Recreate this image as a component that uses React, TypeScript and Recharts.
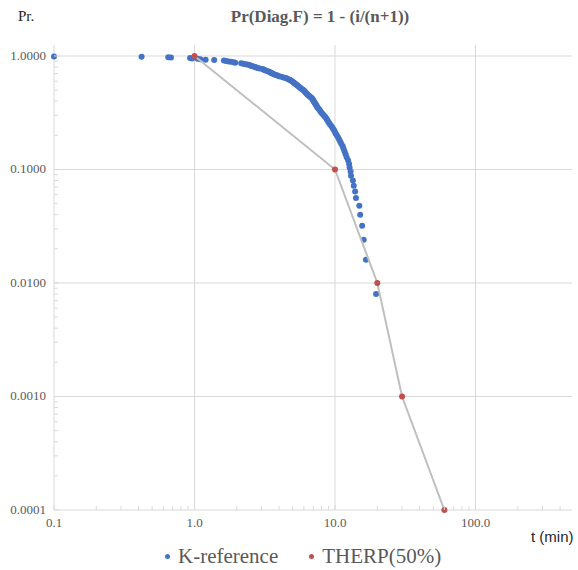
import React from "react";
import { ScatterChart, Scatter, XAxis, YAxis, ReferenceLine } from "recharts";

// K-reference: failure times (min) and Pr = 1 - i/(n+1), n = 124
const kTime = [
  0.1, 0.42, 0.65, 0.68, 0.93, 0.96, 1.05, 1.1, 1.2, 1.38,
  1.62, 1.68, 1.75, 1.82, 1.9, 1.95, 2.15, 2.22, 2.3, 2.38,
  2.45, 2.5, 2.55, 2.62, 2.7, 2.75, 2.82, 2.9, 3.05, 3.1,
  3.15, 3.2, 3.3, 3.38, 3.45, 3.5, 3.55, 3.62, 3.7, 3.8,
  3.9, 4.0, 4.15, 4.3, 4.45, 4.55, 4.65, 4.78, 4.85, 4.95,
  5.0, 5.08, 5.15, 5.22, 5.3, 5.38, 5.45, 5.55, 5.62, 5.7,
  5.8, 5.9, 6.0, 6.08, 6.15, 6.22, 6.3, 6.38, 6.5, 6.6,
  6.72, 6.85, 6.92, 7.0, 7.05, 7.12, 7.2, 7.28, 7.35, 7.42,
  7.5, 7.62, 7.75, 7.85, 7.95, 8.1, 8.25, 8.4, 8.55, 8.7,
  8.82, 8.95, 9.1, 9.25, 9.45, 9.62, 9.8, 9.95, 10.1, 10.3,
  10.5, 10.7, 10.9, 11.1, 11.35, 11.5, 11.7, 11.9, 12.1, 12.4,
  12.6, 12.7, 12.9, 13.0, 13.4, 13.6, 13.9, 14.1, 14.9, 15.1,
  15.6, 16.0, 16.6, 19.6,
];
const kProb = [
  0.992, 0.984, 0.976, 0.968, 0.96, 0.952, 0.944, 0.936, 0.928, 0.92,
  0.912, 0.904, 0.896, 0.888, 0.88, 0.872, 0.864, 0.856, 0.848, 0.84,
  0.832, 0.824, 0.816, 0.808, 0.8, 0.792, 0.784, 0.776, 0.768, 0.76,
  0.752, 0.744, 0.736, 0.728, 0.72, 0.712, 0.704, 0.696, 0.688, 0.68,
  0.672, 0.664, 0.656, 0.648, 0.64, 0.632, 0.624, 0.616, 0.608, 0.6,
  0.592, 0.584, 0.576, 0.568, 0.56, 0.552, 0.544, 0.536, 0.528, 0.52,
  0.512, 0.504, 0.496, 0.488, 0.48, 0.472, 0.464, 0.456, 0.448, 0.44,
  0.432, 0.424, 0.416, 0.408, 0.4, 0.392, 0.384, 0.376, 0.368, 0.36,
  0.352, 0.344, 0.336, 0.328, 0.32, 0.312, 0.304, 0.296, 0.288, 0.28,
  0.272, 0.264, 0.256, 0.248, 0.24, 0.232, 0.224, 0.216, 0.208, 0.2,
  0.192, 0.184, 0.176, 0.168, 0.16, 0.152, 0.144, 0.136, 0.128, 0.12,
  0.112, 0.104, 0.096, 0.088, 0.08, 0.072, 0.064, 0.056, 0.048, 0.04,
  0.032, 0.024, 0.016, 0.008,
];

// THERP (50%) curve
const therpTime = [1, 10, 20, 30, 60];
const therpProb = [1, 0.1, 0.01, 0.001, 0.0001];

const xMajor = [0.1, 1, 10, 100];
const yMajor = [0.0001, 0.001, 0.01, 0.1, 1];
const minorSteps = [2, 3, 4, 5, 6, 7, 8, 9];

const X_MAX = 486;
const Y_MAX = 1.25;

const BLUE = "#4472C4";
const RED = "#C0504D";
const GRID = "#D9D9D9";
const TEXT = "#595959";
const SERIF = "'Liberation Serif', 'Times New Roman', serif";

const kData = kTime.map((t, i) => ({ t, p: kProb[i] }));
const therpData = therpTime.map((t, i) => ({ t, p: therpProb[i] }));

const xTicks = [
  ...xMajor,
  ...xMajor.flatMap((d) => minorSteps.map((m) => m * d)).filter((v) => v <= X_MAX),
].sort((a, b) => a - b);
const yTicks = [
  ...yMajor,
  ...yMajor.flatMap((d) => minorSteps.map((m) => m * d)).filter((v) => v <= Y_MAX),
].sort((a, b) => a - b);

const isMajor = (list: number[], v: number) =>
  list.some((m) => Math.abs(m - v) < m * 1e-6);

const XTick = (props: any) => {
  const { x, y, payload } = props;
  const v = payload.value;
  if (isMajor(xMajor, v)) {
    return (
      <g>
        <line x1={x} x2={x} y1={y} y2={y - 5} stroke={GRID} />
        <text x={x} y={y + 17} textAnchor="middle" fontSize={13} fill={TEXT} fontFamily={SERIF}>
          {v.toFixed(1)}
        </text>
      </g>
    );
  }
  return <line x1={x} x2={x} y1={y} y2={y - 4} stroke={GRID} />;
};

const YTick = (props: any) => {
  const { x, y, payload } = props;
  const v = payload.value;
  if (isMajor(yMajor, v)) {
    return (
      <g>
        <line x1={x} x2={x + 5} y1={y} y2={y} stroke={GRID} />
        <text x={x - 8} y={y + 4} textAnchor="end" fontSize={13} fill={TEXT} fontFamily={SERIF}>
          {v.toFixed(4)}
        </text>
      </g>
    );
  }
  return <line x1={x} x2={x + 4} y1={y} y2={y} stroke={GRID} />;
};

const Dot = (color: string, r: number) => (p: any) =>
  <circle cx={p.cx} cy={p.cy} r={r} fill={color} />;

export default function App() {
  return (
    <div
      style={{
        position: "absolute",
        left: 0,
        top: 0,
        width: 578,
        height: 570,
        background: "#fff",
        fontFamily: SERIF,
      }}
    >
      <div style={{ position: "absolute", left: 18, top: 8, fontSize: 15, color: "#262626" }}>Pr.</div>
      <div
        style={{
          position: "absolute",
          left: 0,
          width: 640,
          top: 7,
          textAlign: "center",
          fontSize: 17,
          fontWeight: "bold",
          color: TEXT,
        }}
      >
        Pr(Diag.F) = 1 - (i/(n+1))
      </div>

      <ScatterChart width={578} height={570} margin={{ top: 45, right: 6, bottom: 30, left: 0 }}>
        {xMajor.slice(1).map((v) => (
          <ReferenceLine key={"gx" + v} x={v} stroke={GRID} strokeWidth={1} />
        ))}
        {yMajor.slice(1).map((v) => (
          <ReferenceLine key={"gy" + v} y={v} stroke={GRID} strokeWidth={1} />
        ))}
        <XAxis
          type="number"
          dataKey="t"
          scale="log"
          domain={[0.1, X_MAX]}
          ticks={xTicks}
          interval={0}
          height={30}
          tickSize={0}
          tickMargin={0}
          tickLine={false}
          axisLine={{ stroke: GRID }}
          tick={<XTick />}
        />
        <YAxis
          type="number"
          dataKey="p"
          scale="log"
          domain={[0.0001, Y_MAX]}
          ticks={yTicks}
          interval={0}
          width={54}
          tickSize={0}
          tickMargin={0}
          tickLine={false}
          axisLine={{ stroke: GRID }}
          tick={<YTick />}
        />
        <Scatter
          name="K-reference"
          data={kData}
          fill={BLUE}
          shape={Dot(BLUE, 3)}
          isAnimationActive={false}
        />
        <Scatter
          name="THERP(50%)"
          data={therpData}
          fill={RED}
          line={{ stroke: "#BFBFBF", strokeWidth: 2 }}
          lineType="joint"
          shape={Dot(RED, 3)}
          isAnimationActive={false}
        />
      </ScatterChart>

      <div
        style={{
          position: "absolute",
          left: 531,
          top: 528,
          fontSize: 15,
          fontFamily: "'Liberation Sans', Arial, sans-serif",
          color: "#262626",
        }}
      >
        t (min)
      </div>

      <div
        style={{
          position: "absolute",
          left: 160,
          top: 544,
          display: "flex",
          alignItems: "center",
          fontSize: 21,
          color: TEXT,
          whiteSpace: "nowrap",
        }}
      >
        <span style={{ width: 5, height: 5, borderRadius: 3, background: BLUE, marginLeft: 5, marginRight: 8 }} />
        <span>K-reference</span>
        <span style={{ width: 5, height: 5, borderRadius: 3, background: RED, marginLeft: 31, marginRight: 8 }} />
        <span>THERP(50%)</span>
      </div>
    </div>
  );
}
